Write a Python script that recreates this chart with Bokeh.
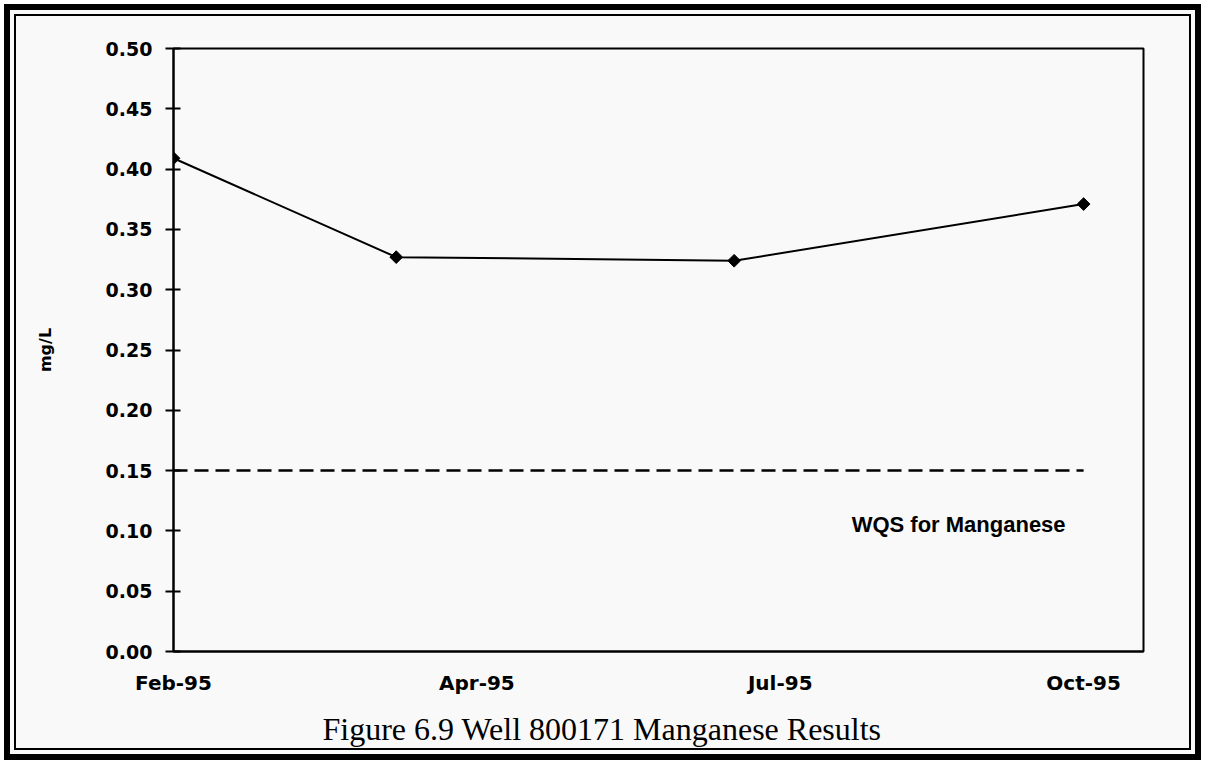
import numpy as np
import pandas as pd
from bokeh.plotting import figure
from bokeh.models import (Range1d, FixedTicker, Label, Title,
                          PrintfTickFormatter, DatetimeTickFormatter)
from bokeh.embed import file_html
from bokeh.resources import INLINE

# ---- data ----
sample_dates = ["1995-02-07", "1995-04-06", "1995-07-03", "1995-10-02"]
mn_values = [0.409, 0.327, 0.324, 0.371]
tick_dates = ["1995-02-07", "1995-04-27", "1995-07-15", "1995-10-02"]
tick_labels = ["Feb-95", "Apr-95", "Jul-95", "Oct-95"]
y_ticks = [0.00, 0.05, 0.10, 0.15, 0.20, 0.25, 0.30, 0.35, 0.40, 0.45, 0.50]
wqs_value = 0.15
wqs_text = "WQS for Manganese"
y_title = "mg/L"
caption = "Figure 6.9 Well 800171 Manganese Results"

def ms(d):
    return float(pd.Timestamp(d).value // 10**6)

DAY = 86400000.0
xs = [ms(d) for d in sample_dates]
tks = [ms(d) for d in tick_dates]

W, H = 1205, 764
BG = "#f9f9f9"

p = figure(width=W, height=H, x_axis_type="datetime",
           output_backend="svg", toolbar_location=None,
           x_range=Range1d(xs[0], xs[-1] + 15.6 * DAY),
           y_range=Range1d(0, 0.5),
           min_border_left=173, min_border_right=62,
           min_border_top=48, min_border_bottom=113)
p.background_fill_color = None
p.border_fill_color = None
p.outline_line_color = "black"
p.outline_line_width = 2
p.grid.visible = False
# double frame around the whole chart (page decoration)
p.styles = {
    "background-color": BG,
    "box-shadow": ("inset 0 0 0 4px #ffffff, inset 0 0 0 10px #000000, "
                   "inset 0 0 0 14px " + BG + ", inset 0 0 0 16px #000000"),
}

# y axis
ya = p.yaxis[0]
ya.ticker = FixedTicker(ticks=y_ticks)
ya.formatter = PrintfTickFormatter(format="%.2f")
ya.major_tick_in = 7
ya.major_tick_out = 8
ya.minor_tick_in = 0
ya.minor_tick_out = 0
ya.axis_line_width = 2
ya.major_tick_line_width = 2
ya.major_label_text_font = "DejaVu Sans"
ya.major_label_text_font_style = "bold"
ya.major_label_text_font_size = "19px"
ya.major_label_text_color = "black"
ya.major_label_standoff = 13
ya.axis_label = y_title
ya.axis_label_text_font = "DejaVu Sans"
ya.axis_label_text_font_style = "bold"
ya.axis_label_text_font_size = "16px"
ya.axis_label_text_color = "black"
ya.axis_label_standoff = 48

# x axis
xa = p.xaxis[0]
xa.ticker = FixedTicker(ticks=tks)
xa.formatter = DatetimeTickFormatter(days="%b-%y", months="%b-%y", years="%b-%y")
xa.major_label_overrides = {t: l for t, l in zip(tks, tick_labels)}
xa.major_tick_in = 0
xa.major_tick_out = 0
xa.minor_tick_in = 0
xa.minor_tick_out = 0
xa.axis_line_width = 2
xa.major_label_text_font = "DejaVu Sans"
xa.major_label_text_font_style = "bold"
xa.major_label_text_font_size = "20px"
xa.major_label_text_color = "black"
xa.major_label_standoff = 19

# WQS dashed line
p.line([xs[0], xs[-1]], [wqs_value, wqs_value], line_color="black",
       line_width=2.5, line_dash="14 7")

# data series
p.line(xs, mn_values, line_color="black", line_width=2)
p.scatter(xs, mn_values, marker="square", angle=np.pi / 4, size=9,
          fill_color="black", line_color="black")

# WQS label
p.add_layout(Label(x=xs[-1], y=0.105, x_offset=-18, text=wqs_text,
                   text_align="right", text_baseline="middle",
                   text_font="Liberation Sans", text_font_style="bold",
                   text_font_size="22px", text_color="black"))

# caption below the chart
p.add_layout(Title(text=caption, align="left", offset=149, standoff=22,
                   text_font="Liberation Serif", text_font_style="normal",
                   text_font_size="32px", text_color="black"), "below")

open("out.html", "w").write(file_html(p, INLINE))
